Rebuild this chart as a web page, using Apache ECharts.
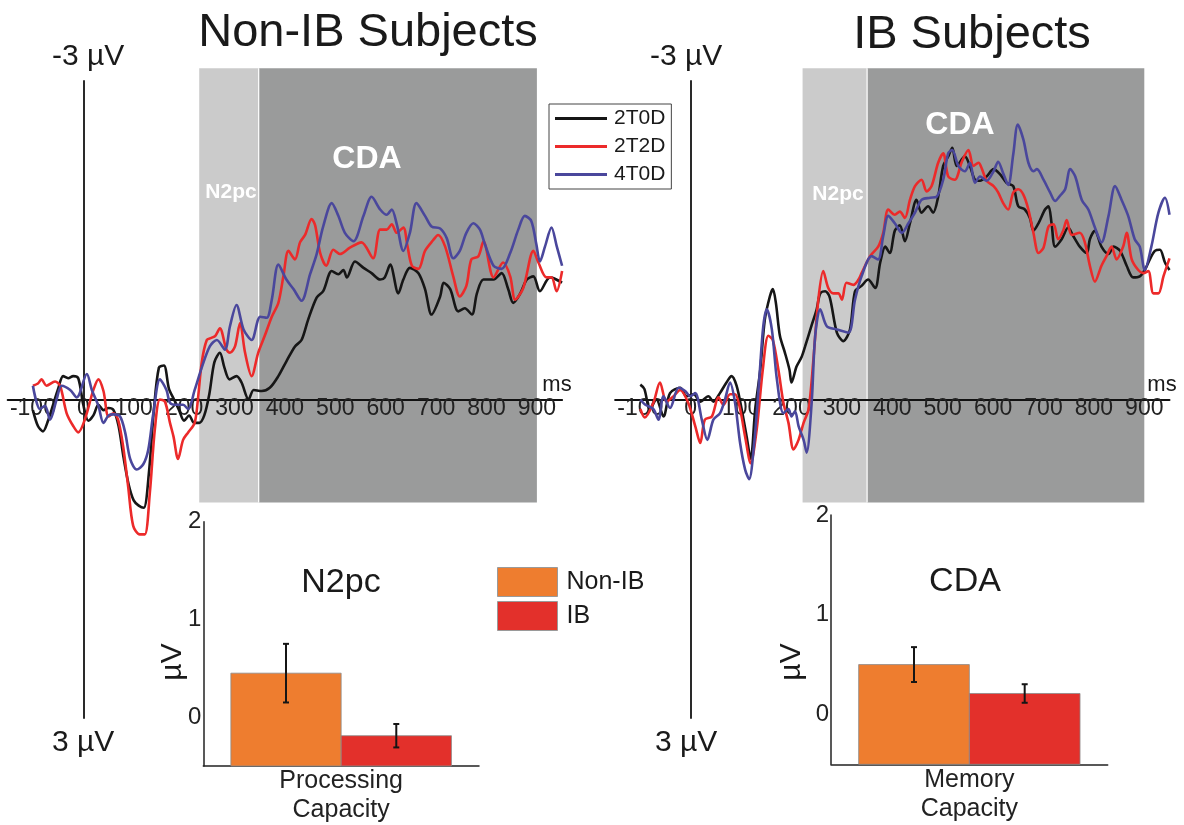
<!DOCTYPE html>
<html><head><meta charset="utf-8">
<script src="https://cdn.jsdelivr.net/npm/echarts@6/dist/echarts.min.js"></script>
<style>html,body{margin:0;padding:0;background:#fff}#chart{width:1184px;height:825px}</style>
</head><body><div id="chart"></div>
<script>
// ---------- DATA ----------
const conditions = ['2T0D', '2T2D', '4T0D'];
const xTickLabels = [-100, 0, 100, 200, 300, 400, 500, 600, 700, 800, 900];

// Non-IB subjects ERP (time ms, amplitude µV)
const nonIB_2T0D = [[-100,0.1],[-90,0.25],[-80,0.3],[-70,0.2],[-60,0.05],[-50,-0.1],[-40,-0.22],[-30,-0.2],[-20,-0.22],[-10,-0.2],[0,0.05],[10,0.2],[20,0.15],[30,0.05],[40,0.1],[50,0.08],[60,0.1],[70,0.25],[80,0.55],[90,0.8],[100,0.95],[110,1.0],[120,1.02],[130,0.7],[140,0.1],[150,-0.3],[160,-0.32],[170,-0.1],[180,0.0],[190,0.1],[200,0.2],[210,0.15],[220,0.22],[230,0.22],[240,0.15],[250,-0.05],[260,-0.35],[271,-0.44],[280,-0.3],[290,-0.19],[304,-0.22],[314,-0.16],[328,0],[338,-0.09],[354,-0.08],[370,-0.11],[387,-0.22],[403,-0.36],[420,-0.5],[433,-0.56],[446,-0.75],[463,-0.96],[476,-1.02],[493,-1.21],[506,-1.18],[516,-1.22],[523,-1.15],[539,-1.3],[556,-1.24],[572,-1.19],[589,-1.13],[598,-1.15],[609,-1.27],[625,-1.0],[635,-1.13],[648,-1.24],[665,-1.19],[678,-1.04],[691,-0.8],[708,-0.97],[715,-1.1],[728,-1.04],[744,-0.83],[757,-0.86],[771,-0.8],[781,-1.0],[794,-1.13],[814,-1.13],[830,-1.19],[843,-1.04],[853,-0.91],[866,-0.99],[880,-1.13],[893,-1.16],[906,-1.02],[926,-1.15],[950,-1.1]];
const nonIB_2T2D = [[-100,-0.13],[-90,-0.15],[-83,-0.19],[-73,-0.13],[-56,-0.17],[-46,-0.13],[-33,0.13],[-20,0.25],[-10,0.31],[3,0.19],[20,-0.09],[30,-0.19],[40,-0.08],[50,0.16],[60,0.13],[69,0.19],[79,0.44],[89,0.82],[99,1.19],[112,1.27],[122,1.27],[132,0.88],[142,0.28],[152,0],[162,0.02],[172,0.22],[179,0.35],[188,0.56],[198,0.38],[208,0.31],[221,0.22],[228,-0.03],[235,-0.35],[245,-0.56],[254,-0.58],[262,-0.6],[271,-0.67],[284,-0.47],[291,-0.44],[301,-0.5],[311,-0.72],[321,-0.44],[334,-0.22],[347,-0.44],[360,-0.6],[374,-0.78],[387,-0.91],[397,-1.16],[407,-1.4],[420,-1.32],[430,-1.48],[440,-1.55],[453,-1.7],[460,-1.64],[470,-1.38],[482,-1.26],[496,-1.41],[509,-1.37],[529,-1.43],[552,-1.48],[575,-1.33],[589,-1.6],[602,-1.6],[612,-1.65],[622,-1.57],[635,-1.62],[643,-1.45],[652,-1.26],[665,-1.23],[678,-1.4],[694,-1.5],[704,-1.55],[718,-1.44],[734,-1.16],[747,-0.97],[760,-1.07],[770,-1.32],[784,-1.35],[794,-1.49],[814,-1.15],[833,-1.29],[847,-1.16],[857,-0.94],[873,-1.05],[893,-1.4],[903,-1.29],[919,-1.15],[929,-1.15],[939,-1.02],[950,-1.21]];
const nonIB_4T0D = [[-100,-0.13],[-86,0.09],[-76,0.06],[-66,0.19],[-53,0],[-43,-0.13],[-26,-0.09],[-13,-0.02],[7,-0.24],[17,-0.09],[30,0.06],[40,0.22],[50,0.15],[60,0.14],[73,0.16],[83,0.31],[93,0.56],[106,0.66],[119,0.61],[129,0.47],[139,0.13],[152,-0.19],[165,-0.09],[172,0.03],[185,0.05],[198,0.05],[208,0.09],[221,-0.09],[235,-0.3],[251,-0.5],[265,-0.56],[281,-0.47],[291,-0.69],[304,-0.89],[318,-0.66],[334,-0.56],[351,-0.78],[364,-0.77],[374,-0.94],[387,-1.27],[403,-1.13],[417,-1.04],[433,-0.93],[450,-1.18],[463,-1.37],[476,-1.63],[493,-1.85],[506,-1.73],[519,-1.57],[536,-1.49],[556,-1.73],[572,-1.91],[589,-1.79],[602,-1.74],[612,-1.79],[622,-1.65],[635,-1.4],[648,-1.57],[661,-1.85],[678,-1.73],[691,-1.63],[708,-1.61],[721,-1.52],[734,-1.33],[747,-1.4],[760,-1.57],[774,-1.66],[787,-1.6],[797,-1.46],[814,-1.26],[830,-1.23],[847,-1.38],[863,-1.6],[876,-1.73],[889,-1.68],[899,-1.46],[906,-1.3],[916,-1.44],[929,-1.62],[939,-1.45],[950,-1.26]];

// IB subjects ERP
const IB_2T0D = [[-100,-0.14],[-92,-0.1],[-81,0.09],[-68,0.0],[-54,0.16],[-41,-0.06],[-21,-0.11],[-8,-0.03],[6,-0.05],[19,0.02],[35,-0.03],[45,0.02],[58,-0.06],[71,-0.16],[81,-0.22],[91,-0.13],[101,0.09],[111,0.35],[119,0.56],[128,0.09],[138,-0.28],[147,-0.75],[157,-0.97],[163,-1.04],[169,-0.91],[177,-0.6],[187,-0.44],[196,-0.28],[200,-0.16],[210,-0.31],[220,-0.4],[227,-0.5],[240,-0.7],[250,-0.85],[257,-1.0],[267,-1.02],[276,-0.96],[290,-0.63],[303,-0.55],[316,-0.66],[326,-1.02],[339,-1.07],[352,-1.13],[366,-1.05],[376,-1.29],[386,-1.44],[395,-1.38],[405,-1.59],[415,-1.64],[425,-1.49],[435,-1.66],[448,-1.88],[458,-1.76],[471,-1.82],[481,-1.76],[491,-1.91],[501,-2.2],[511,-2.29],[519,-2.37],[528,-2.2],[544,-2.29],[554,-2.2],[564,-2.07],[574,-2.06],[587,-2.1],[601,-2.17],[614,-2.12],[627,-2.04],[640,-2.01],[650,-1.82],[663,-1.79],[673,-1.71],[680,-1.59],[690,-1.66],[703,-1.79],[710,-1.82],[716,-1.66],[723,-1.44],[736,-1.51],[749,-1.62],[759,-1.54],[772,-1.44],[786,-1.38],[792,-1.51],[802,-1.59],[815,-1.44],[829,-1.37],[839,-1.44],[852,-1.4],[865,-1.26],[878,-1.15],[891,-1.16],[901,-1.22],[911,-1.32],[921,-1.4],[931,-1.41],[941,-1.29],[950,-1.22]];
const IB_2T2D = [[-100,0.09],[-91,0.17],[-74,0.03],[-61,-0.16],[-48,0.02],[-34,-0.03],[-21,-0.09],[-5,0.03],[9,0.25],[19,0.41],[28,0.19],[42,0.16],[55,-0.02],[65,0.05],[78,-0.05],[88,-0.05],[98,0.09],[108,0.35],[119,0.6],[131,0.28],[143,-0.28],[154,-0.6],[163,-0.56],[174,-0.28],[184,0.03],[194,0.22],[204,0.47],[214,0.38],[224,0.22],[234,0.09],[243,-0.35],[253,-0.93],[263,-1.21],[273,-1.05],[283,-1.0],[293,-1.0],[300,-0.94],[309,-1.1],[323,-1.08],[333,-1.13],[339,-1.19],[356,-1.35],[372,-1.44],[382,-1.57],[392,-1.79],[405,-1.74],[415,-1.77],[425,-1.71],[435,-1.88],[445,-2.01],[458,-2.07],[468,-1.96],[478,-2.01],[491,-2.23],[501,-2.32],[511,-2.1],[524,-2.07],[538,-2.24],[551,-2.35],[561,-2.2],[571,-2.23],[578,-2.17],[587,-2.06],[601,-2.01],[610,-1.95],[620,-1.85],[630,-1.79],[640,-1.95],[650,-1.98],[660,-1.93],[670,-1.79],[680,-1.57],[690,-1.38],[700,-1.43],[710,-1.63],[720,-1.65],[729,-1.51],[739,-1.59],[746,-1.69],[756,-1.55],[772,-1.57],[782,-1.48],[792,-1.26],[802,-1.11],[815,-1.26],[825,-1.35],[835,-1.44],[845,-1.32],[858,-1.44],[865,-1.57],[875,-1.32],[888,-1.22],[898,-1.19],[908,-1.21],[918,-1.0],[928,-1.0],[938,-1.16],[950,-1.33]];
const IB_4T0D = [[-100,0],[-90,0.05],[-74,0.09],[-64,0.19],[-54,-0.03],[-41,0.08],[-24,-0.11],[-11,-0.08],[-1,-0.03],[9,-0.06],[22,0.19],[33,0.38],[45,0.19],[58,0.13],[68,0],[78,-0.16],[88,0.03],[98,0.41],[108,0.66],[116,0.75],[126,0.41],[136,-0.19],[144,-0.69],[151,-0.85],[161,-0.66],[171,-0.19],[184,0.13],[194,0.09],[200,0.16],[207,0.11],[214,0.25],[224,0.38],[230,0.5],[240,0.03],[247,-0.6],[257,-0.85],[270,-0.69],[290,-0.66],[313,-0.63],[326,-0.94],[339,-1.16],[359,-1.35],[372,-1.32],[382,-1.54],[392,-1.73],[405,-1.66],[419,-1.57],[432,-1.66],[445,-1.76],[458,-1.88],[475,-1.9],[488,-1.91],[501,-2.07],[511,-2.32],[519,-2.35],[531,-2.2],[544,-2.15],[554,-2.23],[564,-2.04],[574,-2.1],[587,-2.06],[601,-2.15],[610,-2.24],[620,-2.13],[630,-2.02],[640,-2.31],[649,-2.59],[660,-2.45],[670,-2.23],[680,-2.15],[687,-2.17],[700,-2.07],[713,-1.95],[723,-1.87],[733,-1.92],[743,-1.98],[753,-2.17],[763,-2.1],[776,-1.88],[789,-1.79],[802,-1.62],[815,-1.48],[829,-1.73],[842,-2.01],[855,-1.88],[868,-1.73],[881,-1.51],[891,-1.44],[901,-1.22],[914,-1.44],[928,-1.76],[941,-1.9],[950,-1.74]];

// analysis windows [start ms, end ms, kind] kind 0 = N2pc, 1 = CDA
const nonIBWindows = [[230, 348, 0], [348, 900, 1]];
const IBWindows = [[222, 350, 0], [350, 900, 1]];

// inset bar charts
const groups = ['Non-IB', 'IB'];
const n2pcCategory = ['Processing\nCapacity'];
const n2pcMean = [0.45, -0.19];
const n2pcErr = [0.30, 0.12];
const cdaCategory = ['Memory\nCapacity'];
const cdaMean = [0.50, 0.21];
const cdaErr = [0.175, 0.093];

// ---------- STYLE ----------
const FONT = "'Liberation Sans', Arial, Helvetica, sans-serif";
const lineColors = ['#161616', '#ec2a2a', '#4a479c'];
const barColors = ['#ee7d2f', '#e3302b'];
const SHADE_TOP = -3.12, SHADE_BOTTOM = 0.97;
const BAR_MIN = -0.5;
const ERP_GRID_H = 637;

const chart = echarts.init(document.getElementById('chart'), null, {renderer: 'canvas'});

function shadeRender(params, api) {
  const p0 = api.coord([api.value(0), SHADE_TOP]);
  const p1 = api.coord([api.value(1), SHADE_BOTTOM]);
  const kind = api.value(2);
  const children = [{
    type: 'rect',
    shape: {x: p0[0], y: p0[1], width: p1[0] - p0[0], height: p1[1] - p0[1]},
    style: {fill: kind === 0 ? '#cbcbcb' : '#9a9b9b'}
  }];
  if (kind === 1) {
    children.push({type: 'line', shape: {x1: p0[0], y1: p0[1], x2: p0[0], y2: p1[1]}, style: {stroke: '#ffffff', lineWidth: 1.2}});
  }
  return {type: 'group', children};
}

function shadeSeries(windows, gi) {
  return {type: 'custom', data: windows, xAxisIndex: gi, yAxisIndex: gi, renderItem: shadeRender,
    clip: false, z: 1, silent: true, animation: false, encode: {x: 0, y: 1}};
}

function lineSeries(name, data, gi, color) {
  return {type: 'line', name, data, xAxisIndex: gi, yAxisIndex: gi, symbol: 'none', showSymbol: false,
    smooth: 0.3, z: 3, silent: true, animation: false, itemStyle: {color}, lineStyle: {color, width: 2.6}};
}

function barSeries(name, mean, err, k, gi, color) {
  return {
    type: 'custom', name, xAxisIndex: gi, yAxisIndex: gi, data: [[0, mean, err]], z: 3, silent: true,
    animation: false, itemStyle: {color}, encode: {x: 0, y: 1},
    renderItem: function (params, api) {
      const m = api.value(1), e = api.value(2);
      const band = api.size([1, 0])[0];
      const w = band * 0.4;
      const top = api.coord([0, m]);
      const base = api.coord([0, BAR_MIN]);
      const x0 = top[0] - w + k * w;
      const cx = x0 + w / 2;
      const eTop = api.coord([0, m + e])[1];
      const eBot = api.coord([0, m - e])[1];
      return {type: 'group', children: [
        {type: 'rect', shape: {x: x0, y: top[1], width: w, height: base[1] - top[1]},
          style: {fill: color, stroke: '#8a8a8a', lineWidth: 0.8}},
        {type: 'line', shape: {x1: cx, y1: eTop, x2: cx, y2: eBot}, style: {stroke: '#151515', lineWidth: 2}},
        {type: 'line', shape: {x1: cx - 3, y1: eTop, x2: cx + 3, y2: eTop}, style: {stroke: '#151515', lineWidth: 2}},
        {type: 'line', shape: {x1: cx - 3, y1: eBot, x2: cx + 3, y2: eBot}, style: {stroke: '#151515', lineWidth: 2}}
      ]};
    }
  };
}

function erpX(gi) {
  // axis drawn at the 0 µV level (middle of a symmetric -3..3 range)
  return {type: 'value', gridIndex: gi, min: -150, max: 950, interval: 50, z: 2,
    position: 'bottom', offset: -ERP_GRID_H / 2,
    axisLine: {onZero: false, lineStyle: {color: '#111', width: 2}},
    axisTick: {show: false}, splitLine: {show: false},
    axisLabel: {fontSize: 23, fontFamily: FONT, color: '#222', margin: -2,
      formatter: v => (xTickLabels.indexOf(v) >= 0 ? String(v) : '')}};
}
function erpY(gi) {
  return {type: 'value', gridIndex: gi, min: -3, max: 3, inverse: true, z: 2,
    axisLine: {onZero: true, lineStyle: {color: '#2a2a2a', width: 2}},
    axisTick: {show: false}, splitLine: {show: false}, axisLabel: {show: false}};
}
function barX(gi, cats) {
  return {type: 'category', gridIndex: gi, data: cats, z: 2,
    axisLine: {onZero: false, lineStyle: {color: '#222', width: 1.5}}, axisTick: {show: false},
    axisLabel: {fontSize: 25, fontFamily: FONT, color: '#222', lineHeight: 29, margin: 1}};
}
function barY(gi) {
  return {type: 'value', gridIndex: gi, min: BAR_MIN, max: 2, interval: 0.5, z: 2,
    axisLine: {show: true, onZero: false, lineStyle: {color: '#222', width: 1.5}}, axisTick: {show: false},
    splitLine: {show: false},
    axisLabel: {fontSize: 24, fontFamily: FONT, color: '#222', margin: 2,
      formatter: v => (Number.isInteger(v) && v >= 0 ? String(v) : '')}};
}

function txt(x, y, text, size, opts) {
  opts = opts || {};
  return {type: 'text', x, y, rotation: opts.rotation || 0, z: 10, silent: true,
    style: {text, fontSize: size, fontFamily: FONT, fontWeight: opts.bold ? 'bold' : 'normal',
      fill: opts.fill || '#1a1a1a', align: opts.align || 'center', verticalAlign: 'middle'}};
}

const option = {
  animation: false,
  backgroundColor: '#ffffff',
  grid: [
    {left: 7.7, top: 81, width: 554.4, height: ERP_GRID_H},
    {left: 615.1, top: 81, width: 554.4, height: ERP_GRID_H},
    {left: 203.3, top: 521.7, width: 275.7, height: 249},
    {left: 831, top: 515, width: 276.7, height: 249.3}
  ],
  xAxis: [erpX(0), erpX(1), barX(2, n2pcCategory), barX(3, cdaCategory)],
  yAxis: [erpY(0), erpY(1), barY(2), barY(3)],
  legend: [
    {data: conditions, left: 549, top: 104, orient: 'vertical', selectedMode: false,
      icon: 'rect', itemWidth: 52, itemHeight: 3, itemGap: 7, padding: [4, 6, 4, 6],
      borderColor: '#444', borderWidth: 1, backgroundColor: '#fff',
      textStyle: {fontSize: 21, fontFamily: FONT, color: '#1a1a1a', lineHeight: 21, padding: [0, 0, 0, 2]}},
    {data: groups, left: 497, top: 567, orient: 'vertical', selectedMode: false,
      icon: 'rect', itemWidth: 60, itemHeight: 29, itemGap: 4, padding: 0,
      itemStyle: {borderColor: '#9a9a9a', borderWidth: 1},
      textStyle: {fontSize: 25, fontFamily: FONT, color: '#1a1a1a', padding: [0, 0, 0, 4]}}
  ],
  series: [
    shadeSeries(nonIBWindows, 0),
    shadeSeries(IBWindows, 1),
    lineSeries(conditions[0], nonIB_2T0D, 0, lineColors[0]),
    lineSeries(conditions[1], nonIB_2T2D, 0, lineColors[1]),
    lineSeries(conditions[2], nonIB_4T0D, 0, lineColors[2]),
    lineSeries(conditions[0], IB_2T0D, 1, lineColors[0]),
    lineSeries(conditions[1], IB_2T2D, 1, lineColors[1]),
    lineSeries(conditions[2], IB_4T0D, 1, lineColors[2]),
    barSeries(groups[0], n2pcMean[0], n2pcErr[0], 0, 2, barColors[0]),
    barSeries(groups[1], n2pcMean[1], n2pcErr[1], 1, 2, barColors[1]),
    barSeries(groups[0], cdaMean[0], cdaErr[0], 0, 3, barColors[0]),
    barSeries(groups[1], cdaMean[1], cdaErr[1], 1, 3, barColors[1])
  ],
  graphic: [
    txt(368, 33, 'Non-IB Subjects', 47),
    txt(972, 35, 'IB Subjects', 47),
    txt(52, 57, '-3 µV', 30, {align: 'left'}),
    txt(52, 743, '3 µV', 30, {align: 'left'}),
    txt(650, 57, '-3 µV', 30, {align: 'left'}),
    txt(655, 743, '3 µV', 30, {align: 'left'}),
    txt(557, 385, 'ms', 22),
    txt(1162, 385, 'ms', 22),
    txt(231, 192, 'N2pc', 21, {bold: true, fill: '#ffffff'}),
    txt(367, 159, 'CDA', 32, {bold: true, fill: '#ffffff'}),
    txt(838, 194, 'N2pc', 21, {bold: true, fill: '#ffffff'}),
    txt(960, 125, 'CDA', 32, {bold: true, fill: '#ffffff'}),
    txt(341, 583, 'N2pc', 34),
    txt(965, 582, 'CDA', 34),
    txt(173, 662, 'µV', 30, {rotation: Math.PI / 2}),
    txt(792, 662, 'µV', 30, {rotation: Math.PI / 2})
  ]
};
chart.setOption(option);
</script>
</body></html>
